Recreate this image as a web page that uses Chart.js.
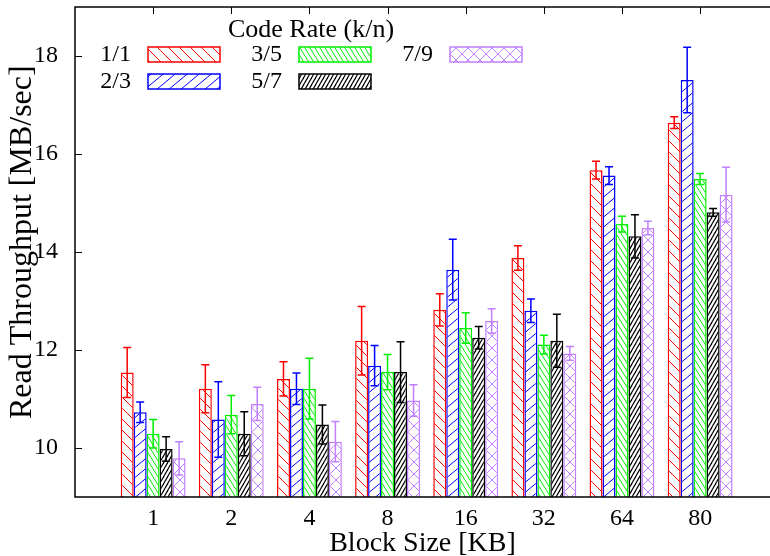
<!DOCTYPE html>
<html>
<head>
<meta charset="utf-8">
<script src="https://cdn.jsdelivr.net/npm/chart.js@4"></script>
<style>
  html, body { margin: 0; padding: 0; background: #fff; }
  #wrap { width: 770px; height: 556px; }
</style>
</head>
<body>
<div id="wrap"><canvas id="myChart" width="770" height="556"></canvas></div>
<script>
const blockSizes = ['1', '2', '4', '8', '16', '32', '64', '80'];
const yTicks = [10, 12, 14, 16, 18];

const rateLabels = ['1/1', '2/3', '3/5', '5/7', '7/9'];
const rate11 = [11.54, 11.21, 11.41, 12.19, 12.82, 13.88, 15.67, 16.64];
const rate23 = [10.73, 10.58, 11.21, 11.68, 13.64, 12.80, 15.56, 17.51];
const rate35 = [10.29, 10.68, 11.21, 11.55, 12.45, 12.11, 14.57, 15.49];
const rate57 = [9.98, 10.29, 10.48, 11.55, 12.25, 12.19, 14.32, 14.81];
const rate79 = [9.79, 10.90, 10.13, 10.97, 12.59, 11.93, 14.49, 15.17];

const err11 = [0.51, 0.49, 0.35, 0.70, 0.33, 0.25, 0.18, 0.12];
const err23 = [0.21, 0.77, 0.32, 0.41, 0.62, 0.24, 0.18, 0.67];
const err35 = [0.29, 0.39, 0.62, 0.36, 0.31, 0.19, 0.16, 0.11];
const err57 = [0.25, 0.45, 0.40, 0.62, 0.23, 0.54, 0.44, 0.08];
const err79 = [0.34, 0.34, 0.41, 0.32, 0.25, 0.14, 0.14, 0.56];

const FONT = "'Liberation Serif', 'DejaVu Serif', serif";

// diagonal hatch tile: '\\' or '/' lines, repeating every w px across and h px down
function hatch(color, w, h, dirs, lw) {
    const c = document.createElement('canvas');
    c.width = w; c.height = h;
    const g = c.getContext('2d');
    g.fillStyle = '#fff';
    g.fillRect(0, 0, w, h);
    g.strokeStyle = color;
    g.lineWidth = lw;
    for (const d of dirs) {
        for (let k = -1; k <= 1; k++) {
            g.beginPath();
            if (d === '\\') {
                g.moveTo(k * w - w, -h);
                g.lineTo(k * w + 2 * w, 2 * h);
            } else {
                g.moveTo(k * w - w, 2 * h);
                g.lineTo(k * w + 2 * w, -h);
            }
            g.stroke();
        }
    }
    return g.createPattern(c, 'repeat');
}

const colors = ['#ff0000', '#0000ff', '#00ee00', '#000000', '#c080ff'];
const fills = [
    hatch(colors[0], 11, 11, ['\\'], 1),
    hatch(colors[1], 12, 10, ['/'], 1),
    hatch(colors[2], 5, 8, ['\\'], 1),
    hatch(colors[3], 4, 7, ['/'], 1.2),
    hatch(colors[4], 12, 12, ['\\', '/'], 1)
];
const values = [rate11, rate23, rate35, rate57, rate79];
const errors = [err11, err23, err35, err57, err79];

const toPoints = arr => arr.map((v, i) => ({ x: i, y: v }));

// frame, inward tick marks, error bars and the rotated y title
const decorations = {
    id: 'decorations',
    beforeDatasetsDraw(chart) {
        const { ctx, chartArea: a, scales: { x } } = chart;
        ctx.save();
        ctx.strokeStyle = '#000';
        ctx.lineWidth = 1;
        blockSizes.forEach((_, i) => {
            const px = Math.round(x.getPixelForValue(i)) + 0.5;
            ctx.beginPath();
            ctx.moveTo(px, a.bottom);
            ctx.lineTo(px, a.bottom - 7);
            ctx.stroke();
        });
        ctx.restore();
    },
    afterDatasetsDraw(chart) {
        const { ctx, chartArea: a, scales: { x, y } } = chart;
        ctx.save();
        chart.data.datasets.forEach((ds, di) => {
            const meta = chart.getDatasetMeta(di);
            ctx.strokeStyle = colors[di];
            ctx.lineWidth = 1.5;
            meta.data.forEach((bar, i) => {
                const v = values[di][i], e = errors[di][i];
                const top = y.getPixelForValue(v + e);
                const bot = y.getPixelForValue(v - e);
                const cx = bar.x;
                ctx.beginPath();
                ctx.moveTo(cx, top); ctx.lineTo(cx, bot);
                ctx.moveTo(cx - 4, top); ctx.lineTo(cx + 4, top);
                ctx.moveTo(cx - 4, bot); ctx.lineTo(cx + 4, bot);
                ctx.stroke();
            });
        });

        ctx.strokeStyle = '#000';
        ctx.lineWidth = 1;
        yTicks.forEach(t => {
            const py = Math.round(y.getPixelForValue(t)) + 0.5;
            ctx.beginPath();
            ctx.moveTo(a.left, py);
            ctx.lineTo(a.left + 7, py);
            ctx.stroke();
        });
        blockSizes.forEach((_, i) => {
            const px = Math.round(x.getPixelForValue(i)) + 0.5;
            ctx.beginPath();
            ctx.moveTo(px, a.top);
            ctx.lineTo(px, a.top + 7);
            ctx.stroke();
        });

        ctx.lineWidth = 1.5;
        ctx.beginPath();
        ctx.moveTo(a.right + 2, a.top);
        ctx.lineTo(a.left, a.top);
        ctx.lineTo(a.left, a.bottom);
        ctx.lineTo(a.right + 2, a.bottom);
        ctx.stroke();

        ctx.translate(23, y.getPixelForValue(14.2));
        ctx.rotate(-Math.PI / 2);
        ctx.fillStyle = '#000';
        ctx.font = '32px ' + FONT;
        ctx.textAlign = 'center';
        ctx.textBaseline = 'middle';
        ctx.fillText('Read Throughput [MB/sec]', 0, 0);
        ctx.restore();
    }
};

// key laid out in three columns under a title
const rateKey = {
    id: 'rateKey',
    afterDraw(chart) {
        const ctx = chart.ctx;
        const cols = [[131, 148], [282, 299], [433, 450]];
        const rows = [47, 74];
        ctx.save();
        ctx.fillStyle = '#000';
        ctx.textBaseline = 'middle';
        ctx.font = '26px ' + FONT;
        ctx.textAlign = 'center';
        ctx.fillText('Code Rate (k/n)', 311, 30);
        ctx.font = '24px ' + FONT;
        ctx.textAlign = 'right';
        rateLabels.forEach((lab, i) => {
            const [lx, sx] = cols[Math.floor(i / 2)];
            const sy = rows[i % 2];
            ctx.fillStyle = '#000';
            ctx.fillText(lab, lx, sy + 8);
            ctx.fillStyle = fills[i];
            ctx.fillRect(sx, sy, 72, 15);
            ctx.strokeStyle = colors[i];
            ctx.lineWidth = 1.5;
            ctx.strokeRect(sx, sy, 72, 15);
        });
        ctx.restore();
    }
};

const ctx = document.getElementById('myChart').getContext('2d');
const myChart = new Chart(ctx, {
    type: 'bar',
    data: {
        datasets: rateLabels.map((lab, i) => ({
            label: lab,
            data: toPoints(values[i]),
            backgroundColor: fills[i],
            borderColor: colors[i],
            borderWidth: 1.5,
            categoryPercentage: 0.83,
            barPercentage: 1
        }))
    },
    options: {
        responsive: false,
        animation: false,
        devicePixelRatio: 1,
        layout: { padding: { top: 7, right: 0, left: 0, bottom: 0 } },
        plugins: {
            legend: { display: false },
            tooltip: { enabled: false }
        },
        scales: {
            x: {
                type: 'linear',
                offset: false,
                min: -1,
                max: 7.894,
                grid: { display: false, drawTicks: false },
                border: { display: false },
                afterBuildTicks(scale) {
                    scale.ticks = blockSizes.map((_, i) => ({ value: i }));
                },
                afterFit(scale) {
                    scale.height = 59;
                    scale.paddingLeft = 0;
                    scale.paddingRight = 0;
                },
                ticks: {
                    autoSkip: false,
                    maxRotation: 0,
                    padding: 7,
                    color: '#000',
                    font: { family: FONT, size: 24 },
                    callback: (v) => blockSizes[Math.round(v)]
                },
                title: {
                    display: true,
                    text: 'Block Size [KB]',
                    color: '#000',
                    font: { family: FONT, size: 28 },
                    padding: { top: 0, bottom: -4 }
                }
            },
            y: {
                min: 9,
                max: 19,
                grid: { display: false, drawTicks: false },
                border: { display: false },
                afterBuildTicks(scale) {
                    scale.ticks = yTicks.map(v => ({ value: v }));
                },
                afterFit(scale) {
                    scale.width = 75;
                    scale.paddingTop = 0;
                    scale.paddingBottom = 0;
                },
                ticks: {
                    padding: 17,
                    color: '#000',
                    font: { family: FONT, size: 24 }
                }
            }
        }
    },
    plugins: [decorations, rateKey]
});
</script>
</body>
</html>
